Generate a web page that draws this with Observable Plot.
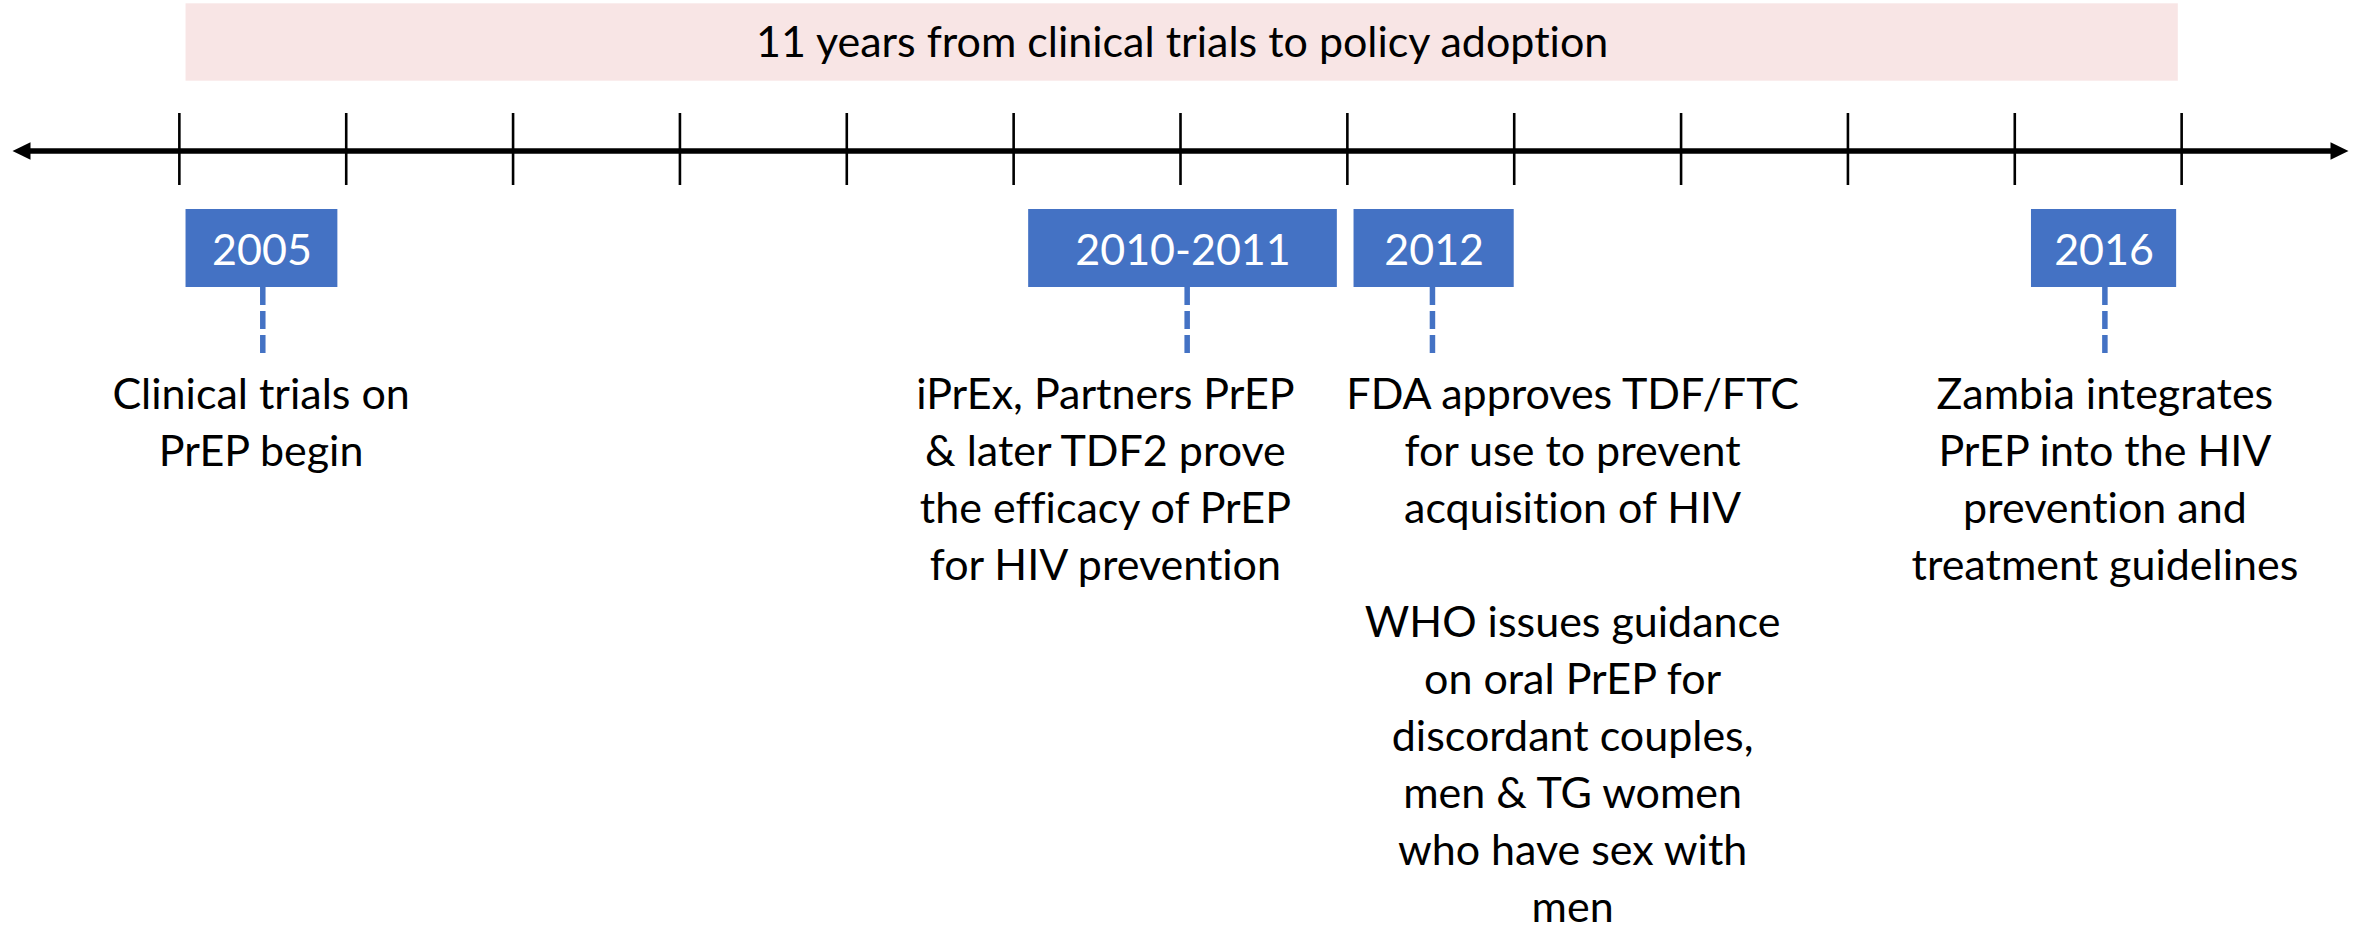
<!DOCTYPE html>
<html>
<head>
<meta charset="utf-8">
<script src="https://cdn.jsdelivr.net/npm/d3@7"></script>
<script src="https://cdn.jsdelivr.net/npm/@observablehq/plot@0.6"></script>
<style>
  html, body { margin: 0; padding: 0; background: #ffffff; }
  svg { display: block; }
  svg text { font-variant-ligatures: none; }
</style>
</head>
<body>
<div id="chart"></div>
<script>
// ---------- DATA ----------
const tickYears = [2005, 2006, 2007, 2008, 2009, 2010, 2011, 2012, 2013, 2014, 2015, 2016, 2017];
const axisStart = 2004;
const axisEnd = 2018;

const spanStart = 2005.04;
const spanEnd = 2016.98;
const spanLabel = "11 years from clinical trials to policy adoption";

const eventLabels = ["2005", "2010-2011", "2012", "2016"];
const eventStart = [2005.04, 2010.09, 2012.04, 2016.10];
const eventEnd = [2005.95, 2011.94, 2013.00, 2016.97];
const eventMarker = [2005.50, 2011.04, 2012.51, 2016.54];
const descriptionCenter = [2005.49, 2010.55, 2013.35, 2016.54];
const descriptions = [
  "Clinical trials on\nPrEP begin",
  "iPrEx, Partners PrEP\n& later TDF2 prove\nthe efficacy of PrEP\nfor HIV prevention",
  "FDA approves TDF/FTC\nfor use to prevent\nacquisition of HIV\n\nWHO issues guidance\non oral PrEP for\ndiscordant couples,\nmen & TG women\nwho have sex with\nmen",
  "Zambia integrates\nPrEP into the HIV\nprevention and\ntreatment guidelines"
];

// ---------- LAYOUT / STYLE ----------
const W = 2359, H = 934;
const F = 43;                 // font size (px)
const LINE = 57;              // line spacing (px)
const L = {
  bandTop: 3.3, bandBottom: 80.7, titleBaseline: 56,
  axisY: 150.5, tickTop: 113, tickBottom: 185,
  boxTop: 209, boxBottom: 287, boxBaseline: 264,
  dashTop: 287, dashBottom: 353,
  descBaseline: 408.5
};
const pink = "#F8E5E5";
const blue = "#4472C4";

const events = eventLabels.map((label, i) => ({
  label, start: eventStart[i], end: eventEnd[i],
  marker: eventMarker[i], center: descriptionCenter[i], text: descriptions[i]
}));

const arrowRight = {draw(ctx) { ctx.moveTo(0, 0); ctx.lineTo(-18, -8.8); ctx.lineTo(-18, 8.8); ctx.closePath(); }};
const arrowLeft  = {draw(ctx) { ctx.moveTo(0, 0); ctx.lineTo(18, -8.8); ctx.lineTo(18, 8.8); ctx.closePath(); }};

const chart = Plot.plot({
  width: W,
  height: H,
  marginLeft: 12,
  marginRight: 11,
  marginTop: 0,
  marginBottom: 0,
  style: {fontFamily: "Lato, 'Open Sans', sans-serif", background: "#ffffff"},
  x: {domain: [axisStart, axisEnd], axis: null},
  y: {domain: [0, H], range: [0, H], axis: null},
  marks: [
    // pink span band and its label
    Plot.rect([{a: spanStart, b: spanEnd}], {x1: "a", x2: "b", y1: () => L.bandTop, y2: () => L.bandBottom, fill: pink}),
    Plot.text([spanLabel], {
      x: () => (spanStart + spanEnd) / 2, y: () => L.titleBaseline - 0.71 * F,
      text: d => d, fontSize: F, lineAnchor: "top", lineHeight: 1, fill: "#000"
    }),
    // timeline axis
    Plot.ruleY([L.axisY], {x1: () => axisStart, x2: () => axisEnd, insetLeft: 14, insetRight: 14, stroke: "#000", strokeWidth: 5.3}),
    Plot.dot([axisEnd], {x: d => d, y: () => L.axisY, symbol: arrowRight, fill: "#000", stroke: "none", r: 9}),
    Plot.dot([axisStart], {x: d => d, y: () => L.axisY, symbol: arrowLeft, fill: "#000", stroke: "none", r: 9}),
    Plot.ruleX(tickYears, {x: d => d, y1: () => L.tickTop, y2: () => L.tickBottom, stroke: "#000", strokeWidth: 2.6}),
    // event boxes
    Plot.rect(events, {x1: "start", x2: "end", y1: () => L.boxTop, y2: () => L.boxBottom, fill: blue}),
    Plot.text(events, {
      x: d => (d.start + d.end) / 2, y: () => L.boxBaseline - 0.71 * F,
      text: "label", fill: "#ffffff", fontSize: F, lineAnchor: "top", lineHeight: 1
    }),
    // dashed connectors
    Plot.ruleX(events, {x: "marker", y1: () => L.dashTop, y2: () => L.dashBottom, stroke: blue, strokeWidth: 5.5, strokeDasharray: "18,6"}),
    // descriptions
    Plot.text(events, {
      x: "center", y: () => L.descBaseline - 0.71 * LINE,
      text: "text", fill: "#000", fontSize: F, lineAnchor: "top", lineHeight: LINE / F
    })
  ]
});
document.getElementById("chart").appendChild(chart);
</script>
</body>
</html>
